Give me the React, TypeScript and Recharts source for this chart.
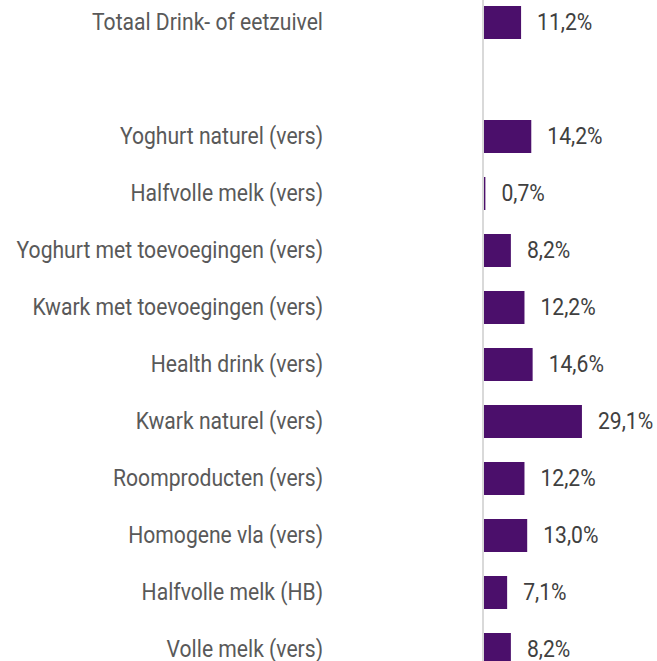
import { Bar, BarChart, LabelList, XAxis, YAxis } from 'recharts';

const categories = [
  'Totaal Drink- of eetzuivel',
  ' ',
  'Yoghurt naturel (vers)',
  'Halfvolle melk (vers)',
  'Yoghurt met toevoegingen (vers)',
  'Kwark met toevoegingen (vers)',
  'Health drink (vers)',
  'Kwark naturel (vers)',
  'Roomproducten (vers)',
  'Homogene vla (vers)',
  'Halfvolle melk (HB)',
  'Volle melk (vers)',
];
const shares = [11.2, null, 14.2, 0.7, 8.2, 12.2, 14.6, 29.1, 12.2, 13.0, 7.1, 8.2];

const data = categories.map((name, i) => ({ name, share: shares[i] }));

const fmt = (v: any) => (v == null ? '' : `${Number(v).toFixed(1).replace('.', ',')}%`);

// condensed look: Roboto squeezed horizontally
const SQUEEZE = 0.88;

const CategoryTick = (props: any) => {
  const { x, y, payload } = props;
  return (
    <text
      transform={`translate(${x},${y}) scale(${SQUEEZE},1)`}
      textAnchor="end"
      dy="0.32em"
      fill="#595959"
      fontSize={24}
      fontFamily="Roboto, sans-serif"
    >
      {payload.value}
    </text>
  );
};

const ValueLabel = (props: any) => {
  const { x, y, width, height, value } = props;
  if (value == null) return null;
  return (
    <text
      transform={`translate(${x + width + 16},${y + height / 2}) scale(${SQUEEZE},1)`}
      textAnchor="start"
      dy="0.32em"
      fill="#404040"
      fontSize={24}
      fontFamily="Roboto, sans-serif"
    >
      {fmt(value)}
    </text>
  );
};

export default function App() {
  return (
    <div style={{ position: 'absolute', left: 0, top: 0, width: 657, height: 661, overflow: 'hidden', background: '#fff' }}>
      <div style={{ position: 'absolute', left: 0, top: -6.5 }}>
        <BarChart
          width={657}
          height={684}
          data={data}
          layout="vertical"
          margin={{ top: 0, right: 4, bottom: 0, left: 0 }}
        >
          <XAxis type="number" domain={[0, 50]} hide />
          <YAxis
            type="category"
            dataKey="name"
            width={483}
            tickLine={false}
            tickSize={0}
            tickMargin={160}
            axisLine={{ stroke: '#d9d9d9', strokeWidth: 2 }}
            tick={<CategoryTick />}
            interval={0}
          />
          <Bar dataKey="share" fill="#4b0f6b" barSize={33} isAnimationActive={false}>
            <LabelList dataKey="share" content={<ValueLabel />} />
          </Bar>
        </BarChart>
      </div>
    </div>
  );
}
